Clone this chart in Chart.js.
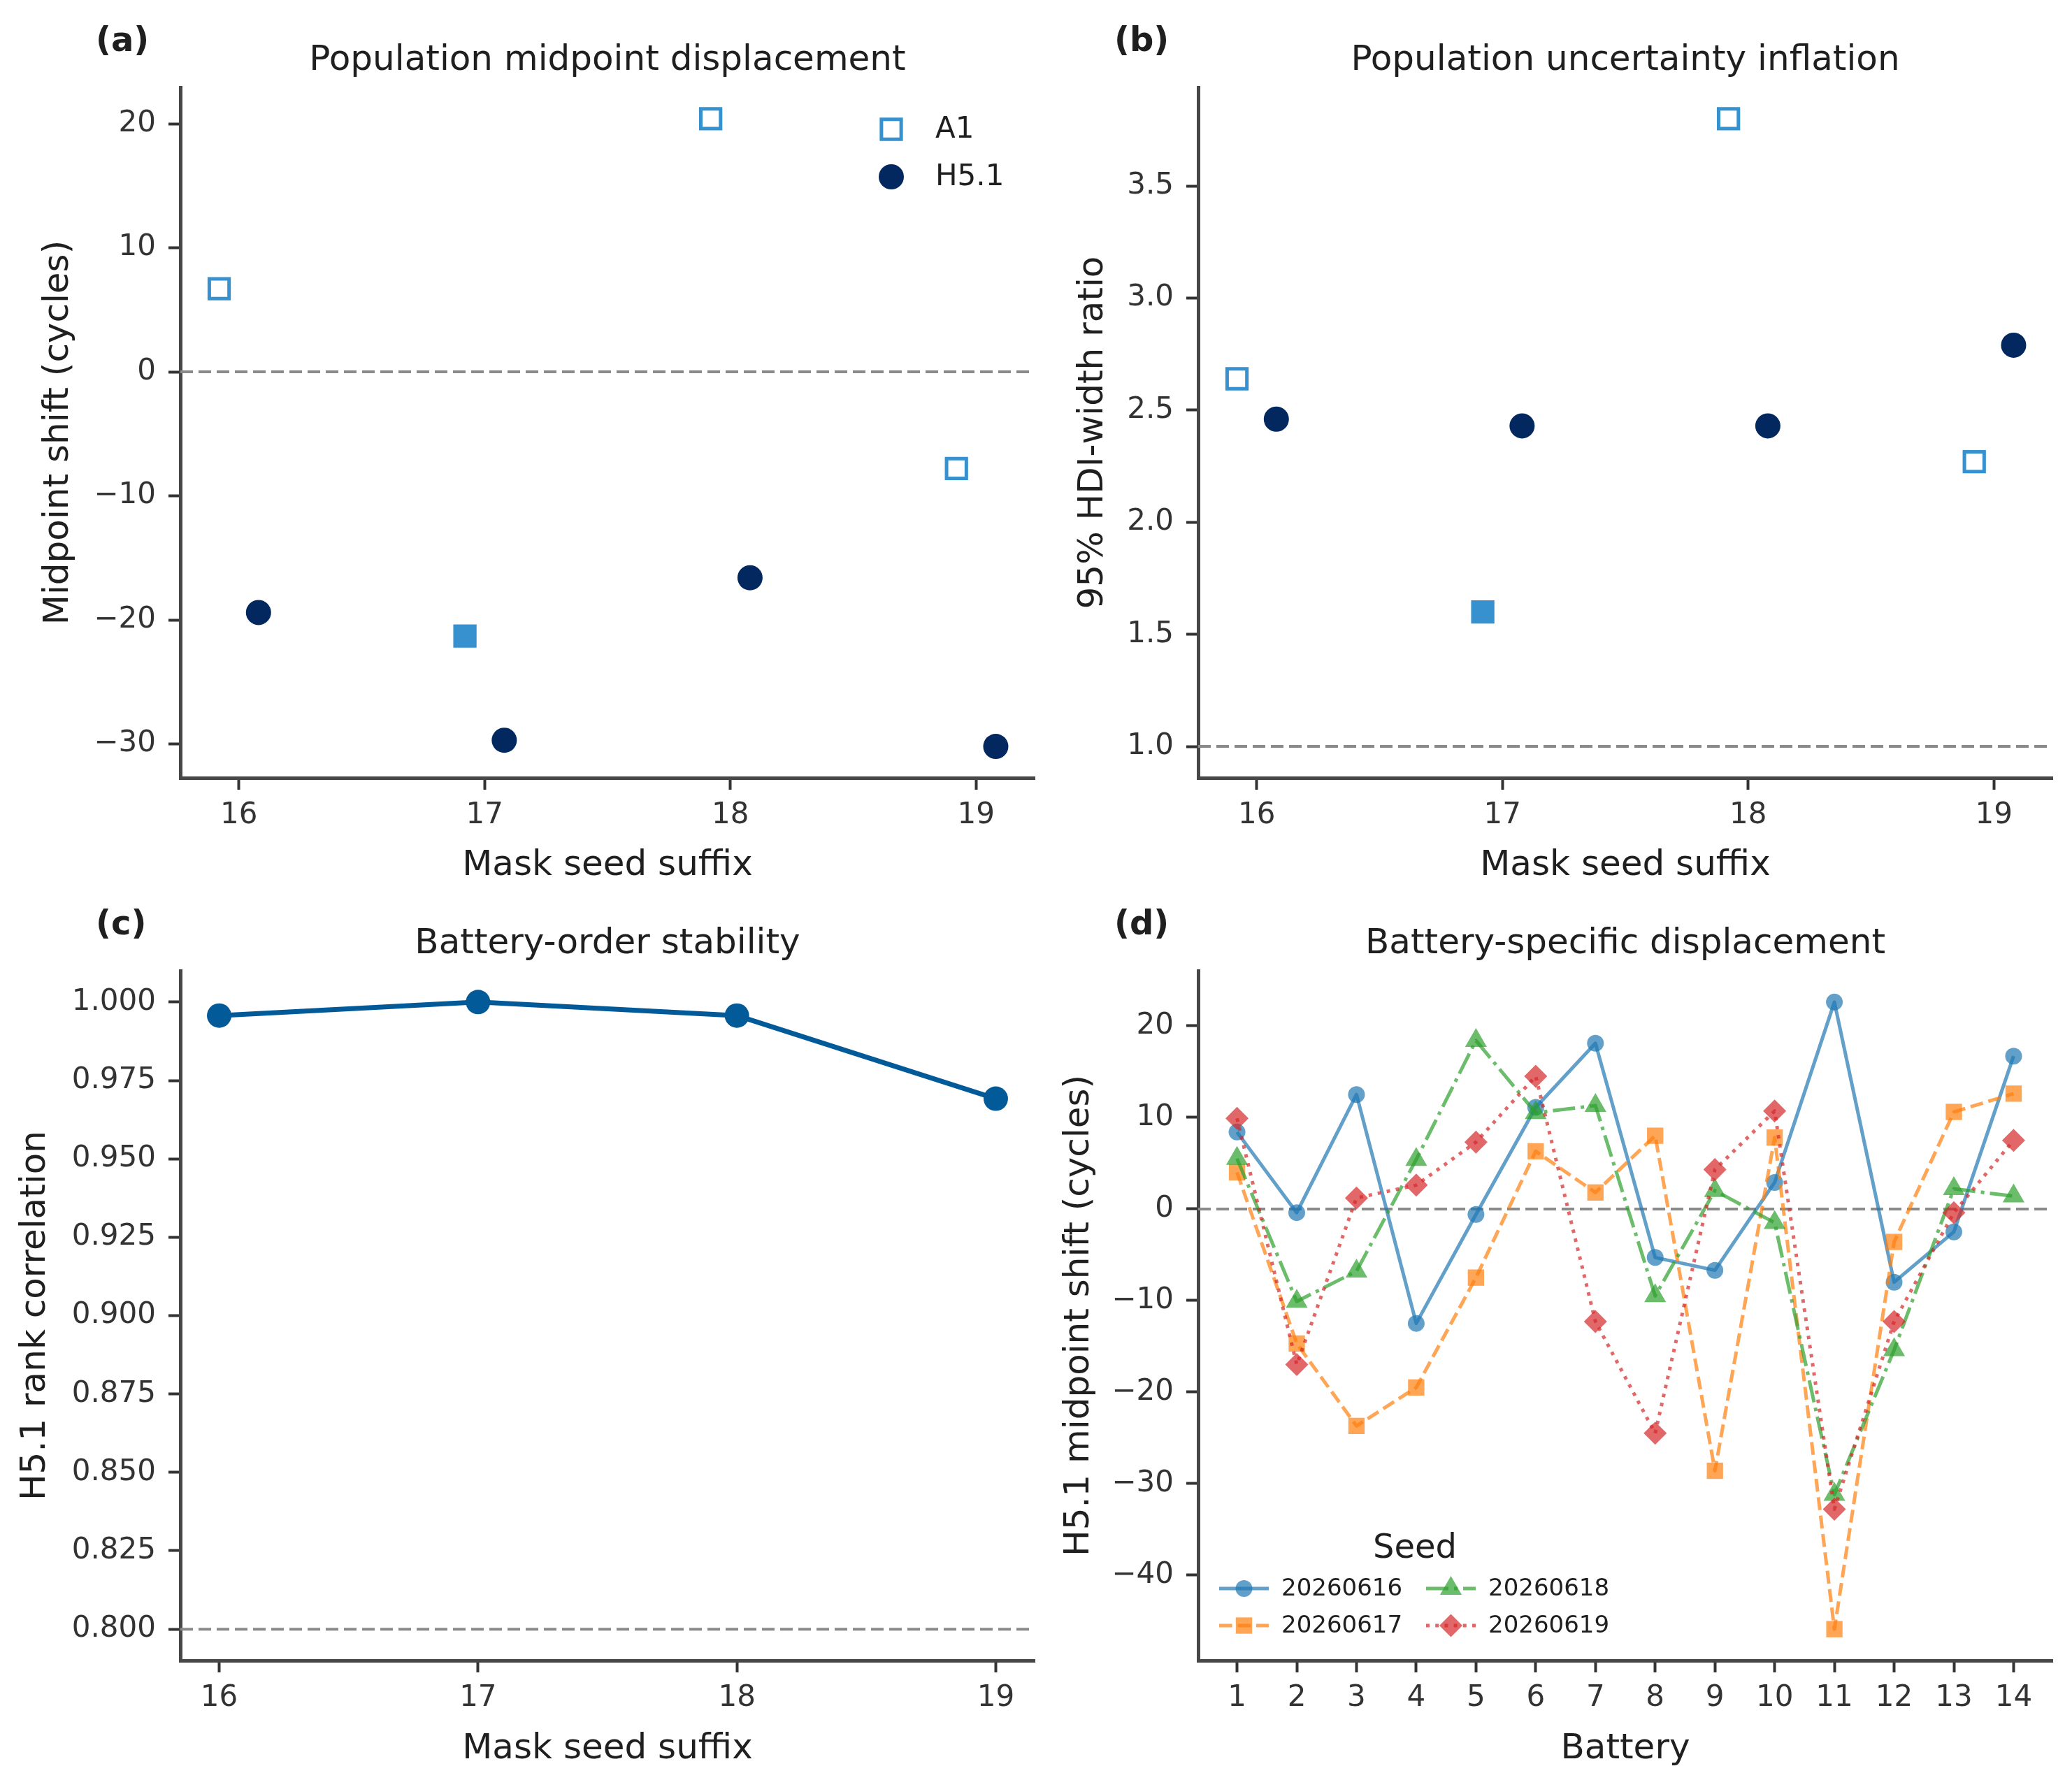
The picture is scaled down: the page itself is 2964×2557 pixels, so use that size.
<!DOCTYPE html>
<html>
<head>
<meta charset="utf-8">
<title>Mask seed sensitivity</title>
<script src="https://cdn.jsdelivr.net/npm/chart.js@4.4.1/dist/chart.umd.min.js"></script>
<style>
    html, body { margin: 0; padding: 0; background: #fff; }
    #fig { position: relative; width: 2964px; height: 2557px; }
    canvas { position: absolute; }
</style>
</head>
<body>
<div id="fig">
    <canvas id="panel-a" width="1482" height="1280" style="left:0;top:0"></canvas>
    <canvas id="panel-b" width="1482" height="1280" style="left:1482px;top:0"></canvas>
    <canvas id="panel-c" width="1482" height="1277" style="left:0;top:1280px"></canvas>
    <canvas id="panel-d" width="1482" height="1277" style="left:1482px;top:1280px"></canvas>
</div>
<script>
// Data
const seedSuffixes = [16, 17, 18, 19];
const suffixTicks = [16, 17, 18, 19];

// (a) population midpoint shift, cycles
const a1Shift = [6.7, -21.3, 20.4, -7.8];
const h51Shift = [-19.4, -29.7, -16.6, -30.2];
const shiftTicks = [-30, -20, -10, 0, 10, 20];

// (b) 95% HDI-width ratio
const a1Ratio = [2.64, 1.60, 3.80, 2.27];
const h51Ratio = [2.46, 2.43, 2.43, 2.79];
const ratioTicks = [1.0, 1.5, 2.0, 2.5, 3.0, 3.5];

// A1 markers drawn filled (per suffix)
const a1Filled = [false, true, false, false];

// (c) H5.1 rank correlation
const rankCorr = [0.9957, 1.0, 0.9957, 0.9692];
const corrTicks = [0.800, 0.825, 0.850, 0.875, 0.900, 0.925, 0.950, 0.975, 1.000];

// (d) battery-specific H5.1 midpoint shift per seed
const batteries = [1, 2, 3, 4, 5, 6, 7, 8, 9, 10, 11, 12, 13, 14];
const seedNames = ['20260616', '20260617', '20260618', '20260619'];
const seed20260616 = [8.4, -0.4, 12.5, -12.5, -0.6, 11.1, 18.1, -5.3, -6.7, 2.9, 22.6, -8.0, -2.5, 16.7];
const seed20260617 = [4.0, -14.7, -23.7, -19.5, -7.5, 6.3, 1.8, 8.0, -28.6, 7.8, -45.9, -3.6, 10.6, 12.6];
const seed20260618 = [5.5, -10.1, -6.8, 5.4, 18.4, 10.5, 11.3, -9.5, 2.0, -1.5, -31.2, -15.4, 2.2, 1.4];
const seed20260619 = [9.9, -17.0, 1.2, 2.6, 7.3, 14.5, -12.3, -24.5, 4.3, 10.7, -32.8, -12.3, -0.4, 7.5];
const displacementTicks = [-40, -30, -20, -10, 0, 10, 20];

// Styles
const FONT = '"DejaVu Sans", "Liberation Sans", sans-serif';
const TEXT = '#1f1f1f';
const TICK_TEXT = '#333333';
const SPINE = '#474747';
const REF = '#8a8a8a';
const A1_COLOR = '#3791cf';
const H51_COLOR = '#02285f';
const CORR_COLOR = '#025a98';
const SEED_COLORS = ['rgba(31,119,180,0.7)', 'rgba(255,127,14,0.7)', 'rgba(44,160,44,0.7)', 'rgba(214,39,40,0.7)'];
const SEED_DASH = [[], [18.5, 8], [32, 8, 5, 8], [5, 8.2]];
const SEED_MARKERS = ['circle', 'rect', 'triangle', 'rectRot'];
const SEED_RADIUS = [12, 16.5, 18, 16.5];
const DODGE = 0.08;

Chart.defaults.font.family = FONT;
Chart.defaults.animation = false;

// matplotlib-like 5% margins
function autoLimits(values) {
    const lo = Math.min(...values), hi = Math.max(...values);
    const pad = (hi - lo) * 0.05;
    return [lo - pad, hi + pad];
}

function fmtTick(v, digits) {
    const s = Math.abs(v).toFixed(digits);
    return v < 0 ? '\u2212' + s : s;
}

function axis(limits, ticks, digits, fit, isX) {
    return {
        type: 'linear',
        position: isX ? 'bottom' : 'left',
        min: limits[0],
        max: limits[1],
        afterBuildTicks: s => { s.ticks = ticks.map(v => ({ value: v })); },
        afterFit: s => {
            if (isX) {
                s.height = fit;
                s.paddingLeft = 0;
                s.paddingRight = 0;
            } else {
                s.width = fit;
                s.paddingTop = 0;
                s.paddingBottom = 0;
            }
        },
        grid: {
            display: true,
            drawOnChartArea: false,
            drawTicks: true,
            tickLength: 17,
            tickWidth: 4,
            tickColor: '#333333'
        },
        border: { display: true, color: SPINE, width: 5 },
        ticks: {
            autoSkip: false,
            maxRotation: 0,
            padding: isX ? 12 : 18,
            color: TICK_TEXT,
            font: { size: 42 },
            callback: v => fmtTick(v, digits)
        }
    };
}

function refLine(xLim, y) {
    return {
        data: [{ x: xLim[0], y: y }, { x: xLim[1], y: y }],
        showLine: true,
        borderColor: REF,
        borderWidth: 4,
        borderDash: [18, 8],
        pointRadius: 0,
        order: 10
    };
}

function drawMarker(ctx, style, x, y, r, fill, stroke, lw) {
    ctx.beginPath();
    if (style === 'circle') {
        ctx.arc(x, y, r, 0, Math.PI * 2);
    } else if (style === 'rect') {
        const h = r * Math.SQRT1_2;
        ctx.rect(x - h, y - h, 2 * h, 2 * h);
    } else if (style === 'triangle') {
        ctx.moveTo(x, y - r);
        ctx.lineTo(x + r * Math.cos(Math.PI / 6), y + r / 2);
        ctx.lineTo(x - r * Math.cos(Math.PI / 6), y + r / 2);
        ctx.closePath();
    } else if (style === 'rectRot') {
        ctx.moveTo(x - r, y);
        ctx.lineTo(x, y - r);
        ctx.lineTo(x + r, y);
        ctx.lineTo(x, y + r);
        ctx.closePath();
    }
    if (fill) { ctx.fillStyle = fill; ctx.fill(); }
    if (stroke && lw) { ctx.strokeStyle = stroke; ctx.lineWidth = lw; ctx.stroke(); }
}

// Titles, panel letters, axis labels and legends
function makeDecor(spec) {
    return {
        id: 'decor-' + spec.letter,
        afterDraw(chart) {
            const ctx = chart.ctx;
            const ca = chart.chartArea;
            ctx.save();
            ctx.fillStyle = TEXT;
            ctx.textBaseline = 'alphabetic';

            ctx.font = 'bold 48px ' + FONT;
            ctx.textAlign = 'left';
            ctx.fillText(spec.letter, spec.letterX, spec.letterY);

            ctx.font = '50px ' + FONT;
            ctx.textAlign = 'center';
            ctx.fillText(spec.title, (ca.left + ca.right) / 2, spec.titleY);

            ctx.font = '50px ' + FONT;
            ctx.fillText(spec.xLabel, (ca.left + ca.right) / 2, spec.xLabelY);

            ctx.save();
            ctx.translate(spec.yLabelX, (ca.top + ca.bottom) / 2);
            ctx.rotate(-Math.PI / 2);
            ctx.fillText(spec.yLabel, 0, 0);
            ctx.restore();

            if (spec.legend) spec.legend(ctx);
            ctx.restore();
        }
    };
}

function baseOptions(padTop, padRight, xScale, yScale) {
    return {
        responsive: false,
        devicePixelRatio: 1,
        animation: false,
        layout: {
            autoPadding: false,
            padding: { top: padTop, right: padRight, left: 0, bottom: 0 }
        },
        plugins: { legend: { display: false }, tooltip: { enabled: false } },
        events: [],
        scales: { x: xScale, y: yScale }
    };
}

// Panels (a) and (b): dodged A1 / H5.1 points
const dodgedX = autoLimits(seedSuffixes.map(s => s - DODGE).concat(seedSuffixes.map(s => s + DODGE)));

function dodgedDatasets(a1Vals, h51Vals, refY) {
    return [
        {
            data: seedSuffixes.map((s, i) => ({ x: s - DODGE, y: a1Vals[i] })),
            pointStyle: 'rect',
            pointRadius: 20,
            pointBorderWidth: 5,
            pointBorderColor: A1_COLOR,
            pointBackgroundColor: a1Filled.map(f => f ? A1_COLOR : '#ffffff'),
            showLine: false,
            order: 2
        },
        {
            data: seedSuffixes.map((s, i) => ({ x: s + DODGE, y: h51Vals[i] })),
            pointStyle: 'circle',
            pointRadius: 18,
            pointBorderWidth: 0,
            pointBackgroundColor: H51_COLOR,
            showLine: false,
            order: 1
        },
        refLine(dodgedX, refY)
    ];
}

const shiftLim = autoLimits(a1Shift.concat(h51Shift, [0]));
new Chart(document.getElementById('panel-a'), {
    type: 'scatter',
    data: { datasets: dodgedDatasets(a1Shift, h51Shift, 0) },
    options: baseOptions(125, 2,
        axis(dodgedX, suffixTicks, 0, 167, true),
        axis(shiftLim, shiftTicks, 0, 258, false)),
    plugins: [makeDecor({
        letter: '(a)', letterX: 137, letterY: 73,
        title: 'Population midpoint displacement', titleY: 100,
        xLabel: 'Mask seed suffix', xLabelY: 1252,
        yLabel: 'Midpoint shift (cycles)', yLabelX: 97,
        legend(ctx) {
            drawMarker(ctx, 'rect', 1275, 185, 20, '#ffffff', A1_COLOR, 5);
            drawMarker(ctx, 'circle', 1275, 253, 18, H51_COLOR, null, 0);
            ctx.fillStyle = TEXT;
            ctx.font = '42px ' + FONT;
            ctx.textAlign = 'left';
            ctx.textBaseline = 'middle';
            ctx.fillText('A1', 1338, 186);
            ctx.fillText('H5.1', 1338, 254);
        }
    })]
});

const ratioLim = autoLimits(a1Ratio.concat(h51Ratio, [1.0]));
new Chart(document.getElementById('panel-b'), {
    type: 'scatter',
    data: { datasets: dodgedDatasets(a1Ratio, h51Ratio, 1.0) },
    options: baseOptions(125, 28,
        axis(dodgedX, suffixTicks, 0, 167, true),
        axis(ratioLim, ratioTicks, 1, 232, false)),
    plugins: [makeDecor({
        letter: '(b)', letterX: 112, letterY: 73,
        title: 'Population uncertainty inflation', titleY: 100,
        xLabel: 'Mask seed suffix', xLabelY: 1252,
        yLabel: '95% HDI-width ratio', yLabelX: 95
    })]
});

// Panel (c): rank correlation
const corrX = autoLimits(seedSuffixes);
const corrLim = autoLimits(rankCorr.concat([0.8]));
new Chart(document.getElementById('panel-c'), {
    type: 'scatter',
    data: {
        datasets: [
            {
                data: seedSuffixes.map((s, i) => ({ x: s, y: rankCorr[i] })),
                showLine: true,
                borderColor: CORR_COLOR,
                borderWidth: 7,
                borderJoinStyle: 'round',
                pointStyle: 'circle',
                pointRadius: 17.5,
                pointBorderWidth: 0,
                pointBackgroundColor: CORR_COLOR,
                order: 1
            },
            refLine(corrX, 0.8)
        ]
    },
    options: baseOptions(109, 2,
        axis(corrX, suffixTicks, 0, 181, true),
        axis(corrLim, corrTicks, 3, 258, false)),
    plugins: [makeDecor({
        letter: '(c)', letterX: 137, letterY: 57,
        title: 'Battery-order stability', titleY: 84,
        xLabel: 'Mask seed suffix', xLabelY: 1236,
        yLabel: 'H5.1 rank correlation', yLabelX: 64
    })]
});

// Panel (d): battery-specific displacement per seed
const seedSeries = [seed20260616, seed20260617, seed20260618, seed20260619];
const batteryLim = autoLimits(batteries);
const dispLim = autoLimits([].concat(...seedSeries, [0]));

new Chart(document.getElementById('panel-d'), {
    type: 'scatter',
    data: {
        datasets: seedSeries.map((vals, k) => ({
            label: seedNames[k],
            data: batteries.map((b, i) => ({ x: b, y: vals[i] })),
            showLine: true,
            borderColor: SEED_COLORS[k],
            borderWidth: 5,
            borderDash: SEED_DASH[k],
            borderJoinStyle: 'round',
            pointStyle: SEED_MARKERS[k],
            pointRadius: SEED_RADIUS[k],
            pointBorderWidth: 0,
            pointBackgroundColor: SEED_COLORS[k],
            order: 4 - k
        })).concat([refLine(batteryLim, 0)])
    },
    options: baseOptions(109, 28,
        axis(batteryLim, batteries, 0, 181, true),
        axis(dispLim, displacementTicks, 0, 232, false)),
    plugins: [makeDecor({
        letter: '(d)', letterX: 112, letterY: 57,
        title: 'Battery-specific displacement', titleY: 84,
        xLabel: 'Battery', xLabelY: 1236,
        yLabel: 'H5.1 midpoint shift (cycles)', yLabelX: 75,
        legend(ctx) {
            ctx.fillStyle = TEXT;
            ctx.font = '48px ' + FONT;
            ctx.textAlign = 'center';
            ctx.textBaseline = 'alphabetic';
            ctx.fillText('Seed', 542, 949);
            const cols = [[262, 333, 351], [558, 629, 647]];
            const rows = [993, 1046];
            seedNames.forEach((name, k) => {
                const c = cols[Math.floor(k / 2)], y = rows[k % 2];
                ctx.save();
                ctx.strokeStyle = SEED_COLORS[k];
                ctx.lineWidth = 5;
                ctx.setLineDash(SEED_DASH[k]);
                ctx.beginPath();
                ctx.moveTo(c[0], y);
                ctx.lineTo(c[1], y);
                ctx.stroke();
                ctx.restore();
                drawMarker(ctx, SEED_MARKERS[k], (c[0] + c[1]) / 2, y, SEED_RADIUS[k], SEED_COLORS[k], null, 0);
                ctx.fillStyle = TEXT;
                ctx.font = '34px ' + FONT;
                ctx.textAlign = 'left';
                ctx.textBaseline = 'middle';
                ctx.fillText(name, c[2], y + 1);
            });
        }
    })]
});
</script>
</body>
</html>
